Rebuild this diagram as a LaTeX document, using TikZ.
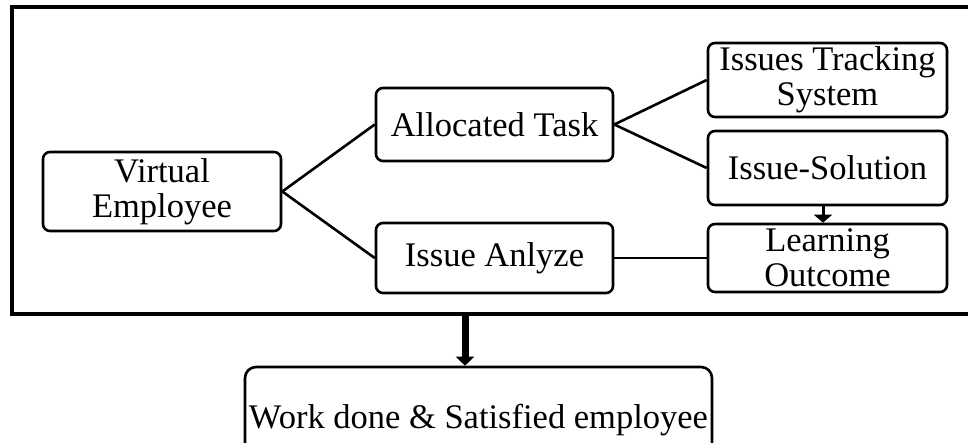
\documentclass[tikz,border=0pt]{standalone}
\usepackage{fontspec}
\setmainfont{Liberation Serif}
\usetikzlibrary{arrows.meta}
\tikzset{
  box/.style={draw, line width=2.6pt, rounded corners=7pt, inner sep=0pt,
    align=center, font=\fontsize{34.5}{35}\selectfont},
  link/.style={line width=2.6pt},
  frame/.style={line width=4pt},
}
\begin{document}
\begin{tikzpicture}[x=1pt, y=-1pt]
  \useasboundingbox (0,0) rectangle (968,443);

  % outer frame, open on the right
  \coordinate (f1) at (990,7);
  \coordinate (f2) at (12,7);
  \coordinate (f3) at (12,314);
  \coordinate (f4) at (990,314);
  \coordinate (fb) at (465,314);
  \draw[frame] (f1) -- (f2) -- (f3) -- (f4);

  % nodes
  \node[box, minimum width=238pt, minimum height=79pt] (ve) at (162,191.5) {Virtual\\Employee};
  \node[box, minimum width=237pt, minimum height=73pt] (at) at (494.5,124.5) {Allocated Task};
  \node[box, minimum width=237pt, minimum height=70pt] (ia) at (494.5,258) {Issue Anlyze};
  \node[box, minimum width=239pt, minimum height=74pt] (its) at (827.5,80) {Issues Tracking\\System};
  \node[box, minimum width=239pt, minimum height=74pt] (is) at (827.5,168) {Issue-Solution};
  \node[box, minimum width=239pt, minimum height=68pt] (lo) at (827.5,258) {Learning\\Outcome};
  \node[box, rounded corners=11pt, minimum width=467pt, minimum height=107pt] (wd) at (478.5,420.5) {Work done \& Satisfied employee};

  % connectors
  \draw[link] (ve.east) -- (at.west);
  \draw[link] (ve.east) -- (ia.west);
  \draw[link] (at.east) -- (its.west);
  \draw[link] (at.east) -- (is.west);
  \draw[link] (ia.east) -- (lo.west);
  \draw[line width=3pt, -{Triangle[width=18pt,length=8pt]}] ([xshift=-4.5pt]is.south) -- ([xshift=-4.5pt]lo.north);
  \draw[line width=7pt, -{Triangle[width=18pt,length=9pt]}] (fb) -- (fb |- wd.north);
\end{tikzpicture}
\end{document}
